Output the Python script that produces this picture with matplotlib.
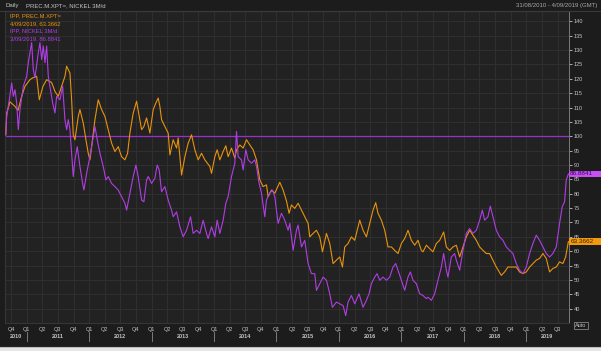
import numpy as np
import matplotlib.pyplot as plt
from matplotlib.transforms import blended_transform_factory
from matplotlib.lines import Line2D
from matplotlib.patches import Rectangle

plt.rcParams['font.family'] = ['Liberation Sans', 'DejaVu Sans']

# time in decimal years, values rebased to 100 on 31/08/2010
plat_t = [2010.665, 2010.68, 2010.733, 2010.813, 2010.861, 2010.92, 2010.973, 2011.053, 2011.101,
          2011.16, 2011.202, 2011.261, 2011.32, 2011.4, 2011.453, 2011.506, 2011.56, 2011.613,
          2011.64, 2011.693, 2011.72, 2011.746, 2011.773, 2011.826, 2011.853, 2011.906, 2011.949,
          2011.986, 2012.013, 2012.04, 2012.093, 2012.146, 2012.2, 2012.253, 2012.306, 2012.36,
          2012.413, 2012.466, 2012.52, 2012.573, 2012.616, 2012.653, 2012.706, 2012.76, 2012.802,
          2012.84, 2012.877, 2012.893, 2012.92, 2012.973, 2013.026, 2013.069, 2013.106, 2013.133,
          2013.16, 2013.213, 2013.266, 2013.293, 2013.346, 2013.4, 2013.426, 2013.453, 2013.48,
          2013.533, 2013.586, 2013.64, 2013.693, 2013.746, 2013.8, 2013.853, 2013.933, 2013.96,
          2014.013, 2014.05, 2014.093, 2014.146, 2014.189, 2014.226, 2014.28, 2014.333, 2014.36,
          2014.413, 2014.466, 2014.52, 2014.573, 2014.626, 2014.68, 2014.733, 2014.786, 2014.84,
          2014.866, 2014.92, 2014.973, 2015.053, 2015.106, 2015.16, 2015.202, 2015.24, 2015.293,
          2015.346, 2015.4, 2015.453, 2015.506, 2015.533, 2015.586, 2015.64, 2015.693, 2015.736,
          2015.8, 2015.853, 2015.906, 2015.96, 2016.013, 2016.056, 2016.093, 2016.146, 2016.2,
          2016.253, 2016.306, 2016.333, 2016.386, 2016.44, 2016.493, 2016.546, 2016.589, 2016.626,
          2016.68, 2016.733, 2016.786, 2016.84, 2016.893, 2016.946, 2017.0, 2017.053, 2017.106,
          2017.16, 2017.213, 2017.266, 2017.32, 2017.346, 2017.4, 2017.453, 2017.506, 2017.56,
          2017.613, 2017.677, 2017.72, 2017.773, 2017.826, 2017.88, 2017.933, 2017.986, 2018.04,
          2018.093, 2018.146, 2018.2, 2018.253, 2018.306, 2018.36, 2018.413, 2018.466, 2018.52,
          2018.6, 2018.653, 2018.706, 2018.76, 2018.84, 2018.893, 2018.946, 2019.0, 2019.053,
          2019.106, 2019.16, 2019.213, 2019.266, 2019.32, 2019.373, 2019.426, 2019.48, 2019.533,
          2019.586, 2019.63, 2019.674]
plat_v = [100.5, 108, 112, 110.4, 109, 113.9, 117.4, 119.7, 120.4,
          120.9, 112.7, 117.4, 119.7, 118.7, 115.6, 113.9, 117.4, 120.9,
          124.4, 122, 112.7, 100.5, 98.8, 106.9, 109.3, 104.6, 98.8,
          94.1, 91.8, 96.4, 105.8, 112.7, 109.3, 106.9, 102.3, 97.6,
          94.7, 96.4, 92.9, 91.8, 94.1, 101.1, 108.1, 112.2, 106.9,
          102.3, 103.4, 104.6, 106.4, 101.1, 109.3, 111.6, 113.3, 110.4,
          105.8, 103.4, 101.1, 93.5, 98.8, 95.9, 99.4, 92.9, 86.5,
          92.9, 97.6, 100.5, 95.3, 91.8, 94.1, 91.8, 89.5, 87.1,
          92.9, 95.3, 91.8, 94.7, 96.7, 92.9, 95.9, 92.4, 95.3,
          97, 95.9, 98.8, 97, 95.3, 91.8, 84.8, 82.5, 83.1,
          79, 81.3, 80.2, 84, 81.3, 77.5, 73.2, 76.1, 74.9,
          76.7, 74.3, 72, 69.7, 65, 66.2, 67.3, 65, 59.8,
          66.2, 62.7, 55.7, 56.9, 58, 54.5, 61.5, 62.7, 65,
          63.8, 68.5, 70.8, 67.3, 65, 69.7, 74.3, 76.9, 73.2,
          70.8, 67.3, 61.5, 61.5, 60.3, 59.2, 62.7, 64.4, 67.3,
          63.8, 62.1, 63.8, 60.3, 59.8, 62.1, 60.9, 59.8, 62.7,
          63.8, 66.7, 61.5, 60.3, 61.5, 62.1, 58, 61.5, 65,
          67.3, 65.6, 63.8, 61.5, 60.3, 59.2, 59.2, 56.9, 54.5,
          51.6, 52.8, 54.5, 54.5, 54.5, 52.8, 52.2, 52.8, 54.5,
          55.7, 56.9, 57.5, 59.2, 57.5, 52.8, 54, 54.5, 56.3,
          55.7, 58, 63.3662]

nick_t = [2010.665, 2010.68, 2010.722, 2010.76, 2010.786, 2010.813, 2010.84, 2010.866, 2010.893,
          2010.946, 2011.0, 2011.026, 2011.053, 2011.08, 2011.106, 2011.133, 2011.186, 2011.213,
          2011.24, 2011.266, 2011.293, 2011.32, 2011.346, 2011.373, 2011.416, 2011.453, 2011.48,
          2011.533, 2011.576, 2011.613, 2011.64, 2011.666, 2011.693, 2011.72, 2011.746, 2011.773,
          2011.81, 2011.853, 2011.896, 2011.917, 2011.96, 2012.002, 2012.04, 2012.093, 2012.13,
          2012.173, 2012.226, 2012.269, 2012.306, 2012.36, 2012.413, 2012.466, 2012.52, 2012.573,
          2012.6, 2012.653, 2012.706, 2012.749, 2012.786, 2012.84, 2012.877, 2012.92, 2012.946,
          2013.0, 2013.053, 2013.09, 2013.122, 2013.16, 2013.213, 2013.266, 2013.32, 2013.346,
          2013.4, 2013.453, 2013.506, 2013.56, 2013.624, 2013.666, 2013.72, 2013.773, 2013.826,
          2013.88, 2013.906, 2013.96, 2014.013, 2014.05, 2014.093, 2014.146, 2014.189, 2014.226,
          2014.28, 2014.333, 2014.36, 2014.386, 2014.44, 2014.466, 2014.509, 2014.546, 2014.6,
          2014.653, 2014.68, 2014.722, 2014.76, 2014.813, 2014.84, 2014.893, 2014.936, 2014.973,
          2015.026, 2015.08, 2015.133, 2015.186, 2015.213, 2015.266, 2015.32, 2015.346, 2015.4,
          2015.453, 2015.506, 2015.56, 2015.613, 2015.64, 2015.693, 2015.746, 2015.8, 2015.853,
          2015.896, 2015.96, 2016.013, 2016.066, 2016.109, 2016.146, 2016.2, 2016.253, 2016.322,
          2016.386, 2016.44, 2016.482, 2016.52, 2016.573, 2016.61, 2016.653, 2016.706, 2016.76,
          2016.813, 2016.866, 2016.909, 2016.946, 2017.0, 2017.053, 2017.106, 2017.144, 2017.186,
          2017.24, 2017.293, 2017.346, 2017.4, 2017.426, 2017.48, 2017.533, 2017.586, 2017.64,
          2017.677, 2017.72, 2017.746, 2017.8, 2017.853, 2017.88, 2017.933, 2017.986, 2018.04,
          2018.093, 2018.146, 2018.2, 2018.253, 2018.296, 2018.333, 2018.386, 2018.424, 2018.466,
          2018.52, 2018.573, 2018.626, 2018.68, 2018.733, 2018.786, 2018.84, 2018.893, 2018.946,
          2019.0, 2019.053, 2019.106, 2019.16, 2019.213, 2019.266, 2019.32, 2019.373, 2019.426,
          2019.48, 2019.533, 2019.576, 2019.613, 2019.64, 2019.674]
nick_v = [100.5, 106.9, 112.7, 118.6, 113.9, 116.2, 111.6, 102.3, 109.3,
          117.4, 120.9, 125.6, 129.1, 132.6, 123.2, 120.3, 129.1, 132.6,
          126.7, 131.4, 125.6, 131.4, 120.9, 117.4, 111.6, 108.1, 113.9,
          112.7, 117.4, 105.8, 102.3, 105.8, 102.3, 94.1, 86, 91.8,
          96.4, 89.5, 83.6, 81.3, 87.1, 91.8, 96.4, 103.4, 98.8,
          94.1, 89.5, 84.8, 86, 83.6, 82.5, 81.3, 79, 76.7,
          74.3, 80.2, 86, 90, 86, 77.8, 77.2, 84.8, 86,
          83.6, 85.4, 90, 88.3, 80.7, 82.5, 77.8, 74.3, 72,
          73.7, 68.5, 65, 67.3, 72, 66.2, 67.3, 66.2, 70.8,
          66.2, 64.4, 68.5, 65, 70.8, 66.2, 70.8, 76.7, 79,
          86, 90.6, 101.7, 92.9, 91.8, 88.3, 95.3, 91.8, 90.6,
          91.8, 89.5, 83.6, 80.2, 72, 77.8, 80.2, 81.3, 79,
          69.7, 73.2, 70.8, 67.3, 69.7, 60.3, 67.3, 69.1, 61.5,
          63.8, 55.7, 52.2, 52.2, 46.4, 48.7, 51, 49.9, 45.2,
          40.5, 42.3, 41.7, 41.1, 37.6, 42.3, 44.6, 41.7, 45.2,
          40.5, 42.9, 45.2, 48.7, 51, 52.2, 49.9, 51, 49.9,
          51, 54.5, 55.7, 53.4, 49.9, 46.4, 51, 52.8, 49.9,
          48.7, 45.2, 44.6, 43.5, 44, 42.9, 45.2, 49.9, 54.5,
          59.2, 53.4, 51, 58, 59.2, 56.9, 53.4, 60.3, 66.2,
          67.9, 66.2, 67.3, 70.8, 74.3, 70.8, 72, 75.7, 72,
          67.3, 65, 63.8, 61.5, 60.3, 59.2, 55.7, 53.4, 52.2,
          54.5, 59.2, 62.7, 65.6, 63.8, 61.5, 59.2, 58, 59.2,
          61.5, 69.7, 75.5, 77.2, 84.8, 86.8841]

plat_last = 63.3662
nick_last = 86.8841
y_ticks = list(range(40, 145, 5))
quarter_names = ['Q1', 'Q2', 'Q3', 'Q4']
years = list(range(2010, 2020))

BG = '#1c1c1c'
PANEL = '#222222'
GRID = '#2f2f2f'
TXT = '#c4c4c4'
ORANGE = '#e8930c'
PURPLE = '#b03ee4'

W, H = 601, 351
fig = plt.figure(figsize=(W / 100, H / 100), dpi=100, facecolor=BG)
ax = fig.add_axes([5 / W, 1 - 322.5 / H, 563.5 / W, 311.5 / H])
ax.set_facecolor(PANEL)

xmin, xmax = 2010.653, 2019.676
ax.set_xlim(xmin, xmax)
ax.set_ylim(35.2, 143.6)

# quarterly ticks
q_pos, q_lab = [], []
for yr in years:
    for q in range(4):
        t = yr + q * 0.25
        if xmin < t <= 2019.6:
            q_pos.append(t)
            q_lab.append(quarter_names[q])
ax.set_xticks(q_pos)
ax.set_xticklabels(q_lab)
ax.tick_params(axis='x', length=0, pad=3, labelsize=4, colors=TXT)

ax.yaxis.tick_right()
ax.set_yticks(y_ticks)
ax.tick_params(axis='y', length=2.5, width=0.6, pad=1.5, labelsize=4, colors=TXT)
ax.xaxis.offsetText.set_visible(False)
ax.yaxis.offsetText.set_visible(False)

ax.grid(True, color=GRID, linewidth=0.8)
ax.set_axisbelow(True)
for side in ['left', 'top', 'bottom']:
    ax.spines[side].set_color('#353535')
    ax.spines[side].set_linewidth(0.8)
ax.spines['right'].set_color('#7a7a7a')
ax.spines['right'].set_linewidth(0.7)

# reference line at 100
ax.axhline(100, color='#9a2fd0', linewidth=0.9, zorder=2)

ax.plot(plat_t, plat_v, color=ORANGE, linewidth=0.8, zorder=3)
ax.plot(nick_t, nick_v, color=PURPLE, linewidth=0.8, zorder=4)

# years under the quarters
bt = blended_transform_factory(ax.transData, ax.transAxes)
bt_y = blended_transform_factory(ax.transAxes, ax.transData)
for yr in years:
    a, b = max(yr, xmin), min(yr + 1, xmax)
    ax.text((a + b) / 2, -0.046, str(yr), transform=bt, ha='center', va='center',
            fontsize=4, fontweight='bold', color=TXT)
    if yr > 2010:
        ax.add_line(Line2D([yr, yr], [-0.03, -0.058], transform=bt, color='#8a8a8a',
                           linewidth=0.6, clip_on=False))

# last-value boxes on the right axis
for val, fc, tc in [(nick_last, '#c64ff5', '#3a0a50'), (plat_last, '#f29a0e', '#3a2200')]:
    ax.add_patch(Rectangle((1.0, val - 1.2), 32 / 563.5, 2.4, transform=bt_y,
                           facecolor=fc, edgecolor='none', clip_on=False, zorder=5))
    ax.text(1.003, val, f'{val:.4f}', transform=bt_y, fontsize=4.6, color=tc,
            va='center', ha='left', zorder=6)
ax.text(1.012, -0.01, 'Auto', transform=ax.transAxes, fontsize=4, color=TXT,
        va='center', ha='left',
        bbox=dict(boxstyle='square,pad=0.2', fc=BG, ec='#9a9a9a', lw=0.5))

# legend text
ax.text(10 / W, 1 - 16 / H, 'IPP, PREC.M.XPT=', transform=fig.transFigure,
        fontsize=4.2, color=ORANGE, va='center')
ax.text(10 / W, 1 - 23.5 / H, '4/09/2019, 63.3662', transform=fig.transFigure,
        fontsize=4.2, color=ORANGE, va='center')
ax.text(10 / W, 1 - 31 / H, 'IPP, NICKEL 3M/d', transform=fig.transFigure,
        fontsize=4.2, color=PURPLE, va='center')
ax.text(10 / W, 1 - 38.5 / H, '3/09/2019, 86.8841', transform=fig.transFigure,
        fontsize=4.2, color=PURPLE, va='center')

# header bar
fig.text(5 / W, 1 - 5.5 / H, 'Daily', fontsize=4.3, color=TXT, va='center')
fig.text(26 / W, 1 - 5.5 / H, 'PREC.M.XPT=, NICKEL 3M/d', fontsize=4.3, color=TXT, va='center')
fig.text(597 / W, 1 - 5.5 / H, '31/08/2010 - 4/09/2019 (GMT)', fontsize=4.3, color='#a8a8a8',
         va='center', ha='right')
fig.add_artist(Line2D([0, 1], [1 - 10.5 / H] * 2, color='#3a3a3a', linewidth=0.8))
fig.add_artist(Line2D([0, 1], [1 - 347 / H] * 2, color='#bdbdbd', linewidth=0.8))
fig.add_artist(Rectangle((0, 0), 1, 3.5 / H, transform=fig.transFigure,
                         facecolor='#e6e6e6', edgecolor='none'))

plt.savefig('out.png', dpi=100, facecolor=BG)
